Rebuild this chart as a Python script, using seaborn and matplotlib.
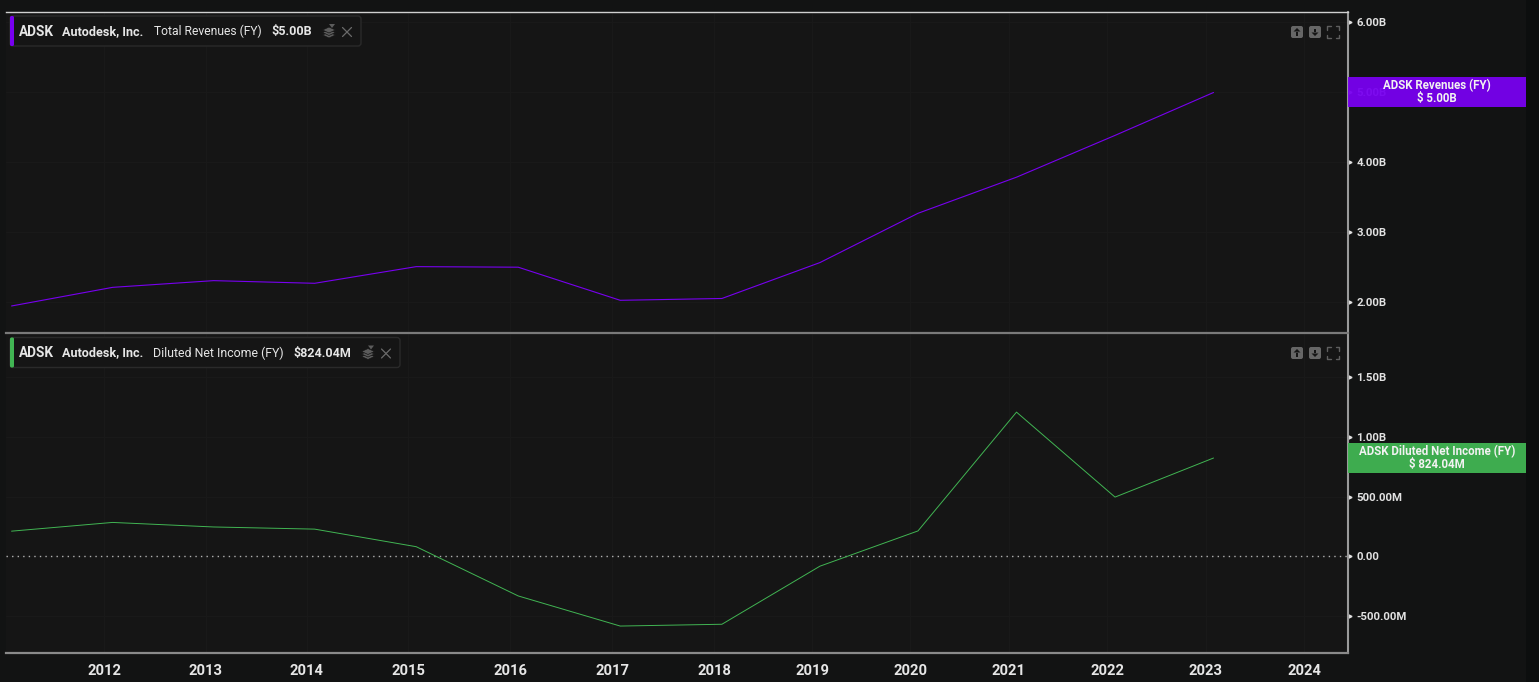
import numpy as np
import pandas as pd
import matplotlib
matplotlib.use("Agg")
import matplotlib.pyplot as plt
from matplotlib.patches import FancyBboxPatch, Polygon, Rectangle
import seaborn as sns

# ----------------------------
# DATA
# ----------------------------

fiscal_dates = [2011.08, 2012.08, 2013.08, 2014.08, 2015.08, 2016.08, 2017.08,
                2018.08, 2019.08, 2020.08, 2021.08, 2022.08, 2023.08]
revenues = [1.95, 2.216, 2.312, 2.274, 2.512, 2.504, 2.031,
            2.057, 2.570, 3.274, 3.790, 4.387, 5.00]
net_income = [0.212, 0.285, 0.247, 0.229, 0.082, -0.330, -0.582,
              -0.567, -0.081, 0.214, 1.208, 0.497, 0.824]

year_ticks = [2012, 2013, 2014, 2015, 2016, 2017, 2018, 2019, 2020, 2021, 2022, 2023, 2024]

rev_ticks = [2, 3, 4, 5, 6]
rev_labels = ["2.00B", "3.00B", "4.00B", "5.00B", "6.00B"]
inc_ticks = [-0.5, 0, 0.5, 1.0, 1.5]
inc_labels = ["-500.00M", "0.00", "500.00M", "1.00B", "1.50B"]

# the time axis is not quite uniform, years get narrower after 2018
scale_years = [2011, 2012, 2013, 2014, 2015, 2016, 2017, 2018, 2019, 2020, 2021, 2022, 2023, 2024, 2025]
scale_pos = [3.5, 104.5, 205.5, 306.5, 408, 510, 612, 714, 812, 910, 1008.5, 1107, 1205.5, 1304, 1402.5]

PURPLE = "#7800f0"
GREEN = "#41b553"
BG = "#151515"

W, H = 1539, 682

sns.set_theme(style="dark", rc={
    "figure.facecolor": "#121313",
    "axes.facecolor": BG,
    "savefig.facecolor": "#121313",
})
plt.rcParams["font.family"] = ["Roboto", "DejaVu Sans"]

fig = plt.figure(figsize=(W / 100, H / 100), dpi=100)


def make_axes(left, top, right, bottom):
    return fig.add_axes([left / W, 1 - bottom / H, (right - left) / W, (bottom - top) / H])


ax1 = make_axes(6, 12, 1348, 332.5)
ax2 = make_axes(6, 333, 1348, 653)


def to_pos(v):
    return np.interp(v, scale_years, scale_pos)


def from_pos(v):
    return np.interp(v, scale_pos, scale_years)


df1 = pd.DataFrame({"date": fiscal_dates, "value": revenues})
df2 = pd.DataFrame({"date": fiscal_dates, "value": net_income})

sns.lineplot(data=df1, x="date", y="value", ax=ax1, color=PURPLE, lw=0.8, errorbar=None)
sns.lineplot(data=df2, x="date", y="value", ax=ax2, color=GREEN, lw=0.7, errorbar=None)

ax2.axhline(0, color="#b0b0b0", lw=1, ls=(0, (1, 3)), zorder=1)

ax1.set_ylim(1.571, 6.15)
ax2.set_ylim(-0.8075, 1.870)

for ax, ticks, labels in [(ax1, rev_ticks, rev_labels), (ax2, inc_ticks, inc_labels)]:
    ax.set_xscale("function", functions=(to_pos, from_pos))
    ax.set_xlim(2011.025, 2024.445)
    ax.set_xticks(year_ticks)
    ax.minorticks_off()
    ax.set_yticks(ticks)
    ax.set_yticklabels(labels)
    ax.yaxis.tick_right()
    ax.set_xlabel("")
    ax.set_ylabel("")
    ax.grid(True, color="#191919", lw=1)
    ax.set_axisbelow(True)
    ax.tick_params(axis="y", length=0, pad=6, labelsize=8.2, labelcolor="#e2e2e2")
    for lab in ax.get_yticklabels():
        lab.set_fontweight("bold")
    # little arrow marks at the y ticks
    ax.plot([1.0016] * len(ticks), ticks, ls="", marker=">", ms=2.2, color="#e0e0e0",
            transform=ax.get_yaxis_transform(), clip_on=False)
    ax.spines["left"].set_visible(False)
    ax.spines["right"].set_color("#9a9a9a")
    ax.spines["right"].set_linewidth(1.5)

ax1.tick_params(axis="x", length=0, labelbottom=False)
ax1.spines["top"].set_color("#d0d0d0")
ax1.spines["top"].set_linewidth(1)
ax1.spines["bottom"].set_visible(False)

ax2.spines["top"].set_color("#7a7a7a")
ax2.spines["top"].set_linewidth(1.6)
ax2.spines["bottom"].set_color("#8a8a8a")
ax2.spines["bottom"].set_linewidth(1.6)
ax2.tick_params(axis="x", length=4, width=1, color="#d8d8d8", pad=4, labelsize=10.6, labelcolor="#e6e6e6")
for lab in ax2.get_xticklabels():
    lab.set_fontweight("bold")

# ----------------------------
# OVERLAY (legends, buttons, last value tags)
# ----------------------------

ov = fig.add_axes([0, 0, 1, 1], zorder=5)
ov.set_xlim(0, W)
ov.set_ylim(H, 0)
ov.axis("off")
ov.patch.set_alpha(0)

ov.add_patch(Rectangle((1526, 0), 13, H, color="#0c0e0e", lw=0))


def legend_box(top, right, color, parts, stack_x):
    ov.add_patch(FancyBboxPatch((10, top), right - 10, 30, boxstyle="round,pad=0,rounding_size=3",
                                fc=BG, ec="#2a2a2a", lw=1))
    ov.add_patch(FancyBboxPatch((10, top), 4, 30, boxstyle="round,pad=0,rounding_size=1.5", fc=color, ec="none"))
    mid = top + 15
    for x, txt, wt, size in parts:
        ov.text(x, mid + 0.5, txt, color="#e6e6e6", fontsize=size, fontweight=wt, va="center", ha="left")
    # stack icon
    for dy in [4, 1.5, -1]:
        ov.add_patch(Polygon([(stack_x - 6.5, mid + dy), (stack_x, mid + dy - 3),
                              (stack_x + 6.5, mid + dy), (stack_x, mid + dy + 3)],
                             fc="#5c5c5c", ec=BG, lw=0.5))
    ov.add_patch(Polygon([(stack_x, mid - 7), (stack_x + 6, mid - 7), (stack_x + 3, mid - 3)], fc="#5c5c5c", ec="none"))
    # close cross
    cx = stack_x + 18
    ov.plot([cx - 4.5, cx + 4.5], [mid - 3.5, mid + 5.5], color="#6a6a6a", lw=0.9)
    ov.plot([cx - 4.5, cx + 4.5], [mid + 5.5, mid - 3.5], color="#6a6a6a", lw=0.9)


def buttons(top):
    for x, up in [(1291, True), (1309, False)]:
        ov.add_patch(FancyBboxPatch((x, top), 12, 12, boxstyle="round,pad=0,rounding_size=2", fc="#666666", ec="none"))
        cx, cy = x + 6, top + 6
        s = -1 if up else 1
        ov.add_patch(Polygon([(cx - 3.5, cy + s * 0.5), (cx + 3.5, cy + s * 0.5), (cx, cy + s * 4)], fc=BG, ec="none"))
        ov.add_patch(Rectangle((cx - 1.2, cy - s * 3.5 if not up else cy), 2.4, 3.5, fc=BG, ec="none"))
    left, right, bot = 1327, 1339, top + 12
    for (x0, y0, dx, dy) in [(left, top, 1, 1), (right, top, -1, 1), (left, bot, 1, -1), (right, bot, -1, -1)]:
        ov.plot([x0 + dx * 3.5, x0, x0], [y0, y0, y0 + dy * 3.5], color="#5e5e5e", lw=1)


def value_tag(top, color, line1, line2):
    ov.add_patch(Rectangle((1348, top), 178, 30, fc=color, ec="none", alpha=0.95))
    ov.text(1437, top + 9, line1, color="#f2f2f2", fontsize=8.3, fontweight="bold", ha="center", va="center")
    ov.text(1437, top + 21.5, line2, color="#f2f2f2", fontsize=8.3, fontweight="bold", ha="center", va="center")


legend_box(16, 361, PURPLE, [(19, "ADSK", "bold", 9.8), (62, "Autodesk, Inc.", "bold", 9.1),
                             (153.5, "Total Revenues (FY)", "normal", 8.7), (271.5, "$5.00B", "bold", 9.1)], 329)
legend_box(337.5, 400, GREEN, [(19, "ADSK", "bold", 9.8), (62, "Autodesk, Inc.", "bold", 9.1),
                               (153, "Diluted Net Income (FY)", "normal", 8.9), (294, "$824.04M", "bold", 9)], 368)

buttons(26)
buttons(347)

value_tag(77, PURPLE, "ADSK Revenues (FY)", "$ 5.00B")
value_tag(443, GREEN, "ADSK Diluted Net Income (FY)", "$ 824.04M")

fig.savefig("out.png", dpi=100)
